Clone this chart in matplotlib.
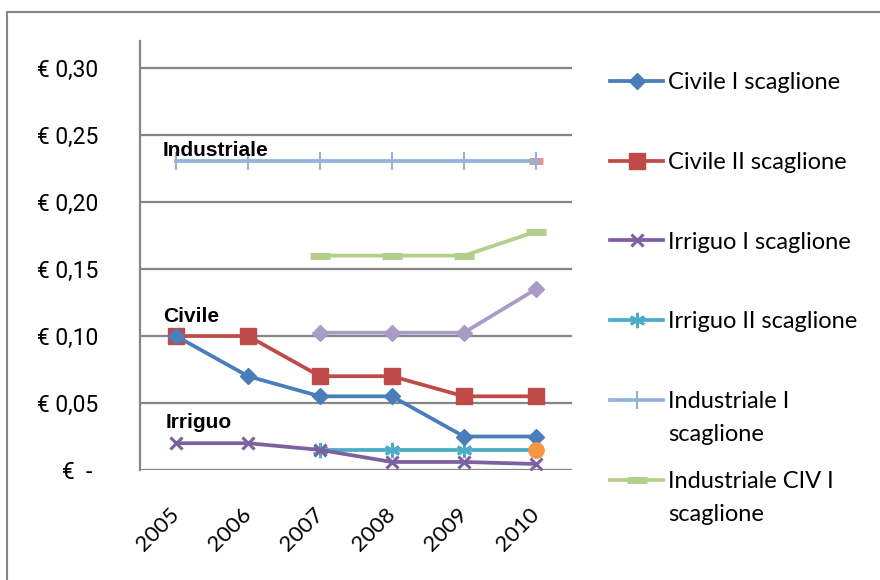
import matplotlib
matplotlib.use("Agg")
import matplotlib.pyplot as plt
from matplotlib import font_manager
from matplotlib.patches import Rectangle

years = ["2005", "2006", "2007", "2008", "2009", "2010"]
civile_1 = [0.100, 0.070, 0.055, 0.055, 0.025, 0.025]
civile_2 = [0.100, 0.100, 0.070, 0.070, 0.055, 0.055]
irriguo_1 = [0.020, 0.020, 0.015, 0.006, 0.006, 0.0045]
irriguo_2 = [None, None, 0.015, 0.015, 0.015, 0.015]
industriale_1 = [0.231, 0.231, 0.231, 0.231, 0.231, 0.231]
industriale_civ_1 = [None, None, 0.160, 0.160, 0.160, 0.178]
civile_civ = [None, None, 0.1025, 0.1025, 0.1025, 0.135]
irriguo_extra = [None, None, None, None, None, 0.015]
industriale_extra = [None, None, None, None, None, 0.231]
yticks = [0.0, 0.05, 0.10, 0.15, 0.20, 0.25, 0.30]
ytick_labels = ["€  - ", "€ 0,05", "€ 0,10", "€ 0,15", "€ 0,20", "€ 0,25", "€ 0,30"]
legend_first = ["Civile I scaglione", "Civile II scaglione", "Irriguo I scaglione",
                "Irriguo II scaglione", "Industriale I", "Industriale CIV I"]
legend_second = ["", "", "", "", "scaglione", "scaglione"]

names = [f.name for f in font_manager.fontManager.ttflist]
narrow = "Liberation Sans Narrow" if "Liberation Sans Narrow" in names else "Liberation Sans"

def nz(v):
    return [float("nan") if a is None else a for a in v]

fig = plt.figure(figsize=(8.8, 5.8), dpi=100)
ax = fig.add_axes([140/880, 1-470/580, 432/880, (470-41)/580])
x = list(range(len(years)))

lw = 2.7
ax.plot(x, nz(industriale_extra), color="#D99694", marker="_", ms=10, mew=5, lw=0, zorder=2)
h_ind = ax.plot(x, nz(industriale_1), color="#95B3D7", lw=lw, marker="|", ms=13, mew=1.5, zorder=3)[0]
h_civ = ax.plot(x, nz(industriale_civ_1), color="#B3CF8A", lw=lw, marker="_", ms=14, mew=5, zorder=3)[0]
ax.plot(x, nz(civile_civ), color="#A99BC7", lw=lw, marker="D", ms=8, zorder=3)
h_c2 = ax.plot(x, nz(civile_2), color="#BE4B48", lw=lw, marker="s", ms=11, zorder=4)[0]
h_c1 = ax.plot(x, nz(civile_1), color="#4A7EBB", lw=lw, marker="D", ms=8, zorder=5)[0]
h_i2 = ax.plot(x, nz(irriguo_2), color="#4BACC6", lw=lw, marker=(6, 2, 0), ms=11, mew=2, zorder=4)[0]
h_i1 = ax.plot(x, nz(irriguo_1), color="#7D60A0", lw=lw, marker="x", ms=9, mew=2.2, zorder=4)[0]
ax.plot(x, nz(irriguo_extra), color="#F79646", lw=0, marker="o", ms=11, zorder=6)

ax.set_xlim(-0.5, 5.5)
ax.set_ylim(0, 0.3 + (68-41)*0.05/66.8)
ax.set_yticks(yticks)
ax.set_yticklabels(ytick_labels, fontfamily="Roboto", fontsize=16.5)
ax.set_xticks(x)
ax.set_xticklabels(years, fontfamily="Lato", fontsize=16, rotation=45,
                   ha="right", va="center", rotation_mode="anchor")
ax.tick_params(axis="x", length=0, pad=30)
ax.tick_params(axis="y", length=0, pad=30)
ax.grid(axis="y", color="#868686", lw=1.6)
ax.set_axisbelow(True)
for s in ["top", "right", "bottom"]:
    ax.spines[s].set_visible(False)
ax.spines["left"].set_color("#868686")
ax.spines["left"].set_linewidth(1.6)

tfont = dict(family=narrow, fontweight="bold", fontsize=15, va="baseline", ha="left")
ax.text(-0.18, 0.2343, "Industriale", **tfont)
ax.text(-0.18, 0.1108, "Civile", **tfont)
ax.text(-0.15, 0.0314, "Irriguo", **tfont)

handles = [h_c1, h_c2, h_i1, h_i2, h_ind, h_civ]
leg = fig.legend(handles, legend_first, loc="upper left",
                 bbox_to_anchor=(610/880, 1-72/580), frameon=False,
                 prop={"family": "Lato", "size": 17}, labelspacing=2.49,
                 handlelength=2.25, handletextpad=0.2, borderaxespad=0, borderpad=0)
leg.set_zorder(5)
for t, second in zip(leg.get_texts(), legend_second):
    if second:
        ann = matplotlib.text.Annotation(
            second, xy=(0, 0), xycoords=t, xytext=(0, -33), textcoords="offset pixels",
            va="bottom", ha="left", family="Lato", fontsize=17)
        ann.set_zorder(20)
        fig.add_artist(ann)

fig.patches.append(Rectangle((7/880, -0.1), 1.2, 1.1 - 12/580, transform=fig.transFigure,
                             fill=False, edgecolor="#868686", lw=1.5))
fig.savefig("out.png", dpi=100)
